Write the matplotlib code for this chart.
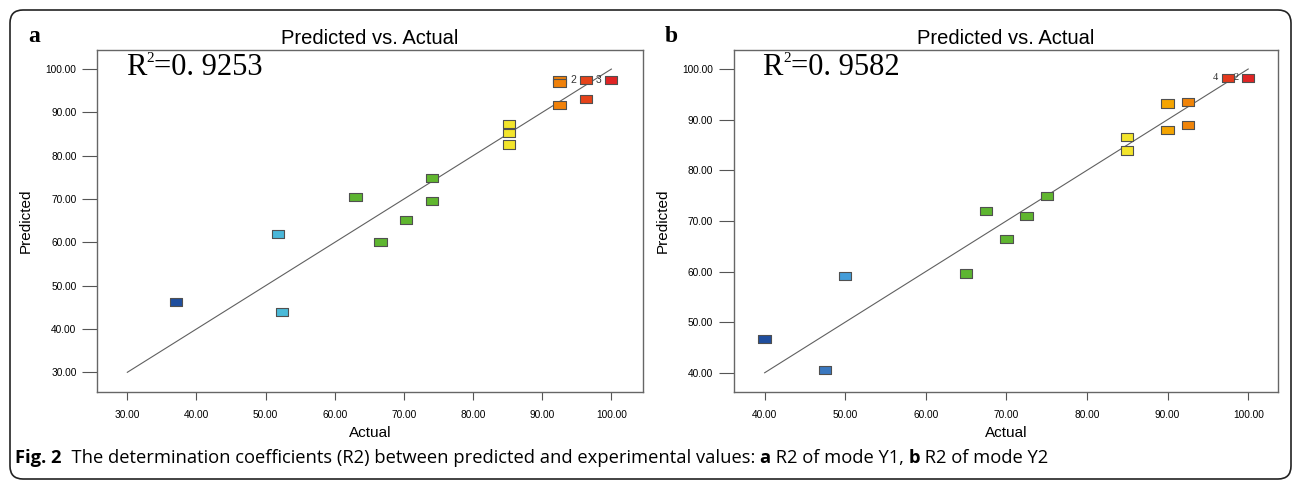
import matplotlib.pyplot as plt
import matplotlib.transforms as mtransforms
import numpy as np
from matplotlib.colors import LinearSegmentedColormap, Normalize
from matplotlib.patches import FancyBboxPatch

# panel a data (mode Y1)
a_actual = [37.0, 51.8, 52.4, 63.0, 66.6, 70.3, 74.1, 74.1, 85.2, 85.2, 85.2,
            92.5, 92.5, 92.5, 96.3, 96.3, 100.0]
a_pred = [46.2, 61.9, 44.0, 70.5, 60.0, 65.2, 74.8, 69.6, 87.4, 85.3, 82.6,
          97.5, 96.8, 91.8, 97.5, 93.0, 97.5]
a_repeat = [(96.3, 97.5, "2"), (100.0, 97.5, "3")]
a_ticks = [30, 40, 50, 60, 70, 80, 90, 100]

# panel b data (mode Y2)
b_actual = [40.0, 47.5, 50.0, 65.0, 67.5, 70.0, 72.5, 75.0, 85.0, 85.0,
            90.0, 90.0, 92.5, 92.5, 97.5, 100.0]
b_pred = [46.7, 40.6, 59.1, 59.6, 72.0, 66.5, 71.0, 74.9, 86.6, 83.9,
          93.2, 88.0, 93.5, 89.0, 98.3, 98.3]
b_repeat = [(97.5, 98.3, "4"), (100.0, 98.3, "2")]
b_ticks = [40, 50, 60, 70, 80, 90, 100]

r2_labels = ["=0. 9253", "=0. 9582"]

# design-expert like colouring by actual value
cmap = LinearSegmentedColormap.from_list("dx", [
    (0.0, "#1f4e9e"), (0.125, "#3a78c0"), (0.17, "#45a2dc"), (0.25, "#4bbcd8"),
    (0.38, "#5cb531"), (0.64, "#62b72e"), (0.74, "#f3e52c"), (0.78, "#f3e52c"),
    (0.83, "#f5a800"), (0.89, "#ef7b0b"), (0.94, "#e6441a"), (1.0, "#e02424")])

rect = [(-1.5, -1.0), (1.5, -1.0), (1.5, 1.0), (-1.5, 1.0), (-1.5, -1.0)]

fig = plt.figure(figsize=(12.95, 4.8), dpi=100)
ax_a = fig.add_axes([0.0752, 0.1833, 0.4213, 0.7125])
ax_b = fig.add_axes([0.5668, 0.1833, 0.4201, 0.7125])

panels = [(ax_a, a_actual, a_pred, a_repeat, a_ticks, (25.67, 104.57), (25.45, 104.4), "Liberation Sans"),
          (ax_b, b_actual, b_pred, b_repeat, b_ticks, (36.2, 103.7), (36.2, 103.75), "Liberation Serif")]

shadow = mtransforms.ScaledTranslation(1 / 100, -1 / 100, fig.dpi_scale_trans)

for i, (ax, xa, yp, rep, ticks, xl, yl, repfont) in enumerate(panels):
    xa = np.array(xa)
    norm = Normalize(vmin=xa.min(), vmax=xa.max())
    ax.plot([ticks[0], ticks[-1]], [ticks[0], ticks[-1]], color="#606060", lw=0.8, zorder=1)
    ax.scatter(xa, yp, marker=rect, s=78, c="#cfcfcf", edgecolors="none", zorder=2,
               transform=ax.transData + shadow)
    ax.scatter(xa, yp, marker=rect, s=78, c=cmap(norm(xa)), edgecolors="#505050",
               linewidths=0.8, zorder=3)
    for x, y, t in rep:
        ax.annotate(t, (x, y), xytext=(-7, 0), textcoords="offset points",
                    ha="right", va="center", fontsize=7.5, color="#333333",
                    family=repfont, zorder=4)
    ax.set_xlim(*xl)
    ax.set_ylim(*yl)
    ax.set_xticks(ticks)
    ax.set_yticks(ticks)
    ax.set_xticklabels([f"{t:.2f}" for t in ticks], family="Liberation Sans")
    ax.set_yticklabels([f"{t:.2f}" for t in ticks], family="Liberation Sans")
    ax.tick_params(axis="y", length=11, width=0.8, pad=4, labelsize=7.3, color="#555555")
    ax.tick_params(axis="x", length=6, width=0.8, pad=7, labelsize=7.3, color="#555555")
    for sp in ax.spines.values():
        sp.set_color("#666666")
        sp.set_linewidth(1.0)
    ax.set_title("Predicted vs. Actual", fontsize=14.5, pad=4, family="Liberation Sans")
    ax.set_xlabel("Actual", fontsize=11, family="Liberation Sans")
    ax.set_ylabel("Predicted", fontsize=11, family="Liberation Sans")
    ax.xaxis.set_label_coords(0.5, -0.1)
    ax.yaxis.set_label_coords(-0.118, 0.5)

    # R^2 annotation: R, small raised 2, then the value
    r = ax.text(0.052, 0.927, "R", transform=ax.transAxes,
                fontsize=22, family="Liberation Serif", va="baseline", ha="left")
    sup = ax.annotate("2", xy=(1, 1), xycoords=r, xytext=(0.5, 1), textcoords="offset points",
                      fontsize=11, family="Liberation Serif", va="top", ha="left")
    ax.annotate(r2_labels[i], xy=(1, 0), xycoords=(sup, r), va="bottom", ha="left",
                fontsize=22, family="Liberation Serif")

fig.text(34 / 1295, 1 - 37 / 480, "a", fontsize=17, fontweight="bold",
         family="Liberation Serif", ha="center", va="center")
fig.text(671 / 1295, 1 - 37 / 480, "b", fontsize=17, fontweight="bold",
         family="Liberation Serif", ha="center", va="center")

# caption built from bold / regular pieces
pieces = [("Fig. 2", "bold"),
          ("  The determination coefficients (R2) between predicted and experimental values: ", "normal"),
          ("a", "bold"), (" R2 of mode Y1, ", "normal"), ("b", "bold"), (" R2 of mode Y2", "normal")]
last = fig.text(15 / 1295, 1 - 458 / 480, pieces[0][0], fontsize=13.2, fontweight="bold",
                family="Open Sans", va="center", ha="left")
for txt, w in pieces[1:]:
    last = ax_a.annotate(txt, xy=(1, 0), xycoords=last, va="bottom", ha="left",
                         fontsize=13.2, fontweight=w, family="Open Sans",
                         annotation_clip=False)

border = FancyBboxPatch((10, 1), 1281, 469, boxstyle="round,pad=0,rounding_size=13",
                        transform=mtransforms.IdentityTransform(), fill=False,
                        edgecolor="#222222", linewidth=1.2, figure=fig)
fig.patches.append(border)

fig.savefig("out.png", dpi=100)
